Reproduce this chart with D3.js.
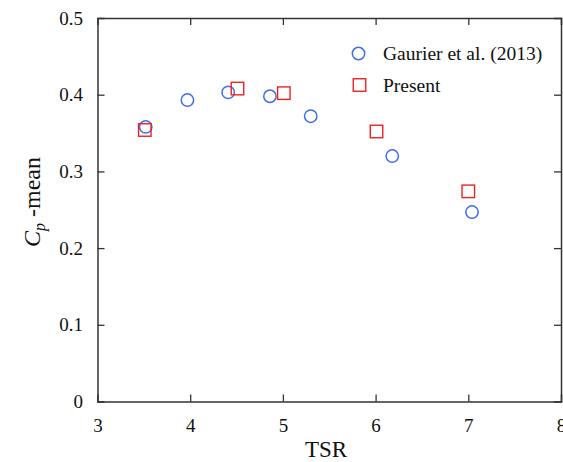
<!DOCTYPE html>
<html>
<head>
<meta charset="utf-8">
<script src="https://cdn.jsdelivr.net/npm/d3@7"></script>
<style>
  html, body { margin: 0; padding: 0; background: #fff; }
  svg text { font-family: "Liberation Serif", "Times New Roman", serif; fill: #111; }
</style>
</head>
<body>
<svg id="chart" width="563" height="462"></svg>
<script>
// Mean power coefficient versus tip speed ratio
const gaurierTSR = [3.52, 3.97, 4.41, 4.86, 5.30, 6.18, 7.04];
const gaurierCp  = [0.358, 0.393, 0.403, 0.398, 0.372, 0.320, 0.247];
const presentTSR = [3.51, 4.51, 5.01, 6.01, 7.00];
const presentCp  = [0.354, 0.408, 0.402, 0.352, 0.274];
const xTicks = [3, 4, 5, 6, 7, 8];
const yTicks = [0, 0.1, 0.2, 0.3, 0.4, 0.5];
const legendLabels = ["Gaurier et al. (2013)", "Present"];

const svg = d3.select("#chart");
const plotLeft = 97.5, plotRight = 561, plotTop = 18, plotBottom = 401.5;

const x = d3.scaleLinear().domain([3, 8]).range([plotLeft, plotRight]);
const y = d3.scaleLinear().domain([0, 0.5]).range([plotBottom, plotTop]);

const axisColor = "#333";
const tickLen = 7;
const tickFont = 19;

// Inward-pointing ticks on all four sides
const gB = svg.append("g").attr("transform", `translate(0,${plotBottom})`)
  .call(d3.axisBottom(x).tickValues(xTicks).tickSize(-tickLen).tickPadding(17).tickFormat(d3.format("d")));
const gT = svg.append("g").attr("transform", `translate(0,${plotTop})`)
  .call(d3.axisTop(x).tickValues(xTicks).tickSize(-tickLen).tickFormat(""));
const gL = svg.append("g").attr("transform", `translate(${plotLeft},0)`)
  .call(d3.axisLeft(y).tickValues(yTicks).tickSize(-tickLen).tickPadding(14.5)
    .tickFormat(d => d === 0 ? "0" : d3.format(".1f")(d)));
const gR = svg.append("g").attr("transform", `translate(${plotRight},0)`)
  .call(d3.axisRight(y).tickValues(yTicks).tickSize(-tickLen).tickFormat(""));

[gB, gT, gL, gR].forEach(g => {
  g.attr("font-family", null).attr("font-size", null);
  g.select(".domain").attr("stroke", axisColor).attr("stroke-width", 1.5);
  g.selectAll(".tick line").attr("stroke", axisColor).attr("stroke-width", 1.3);
  g.selectAll(".tick text").attr("font-family", "Liberation Serif, serif")
    .attr("font-size", tickFont).attr("fill", "#111");
});
// end ticks coincide with the frame; hide them
gB.selectAll(".tick").filter(d => d === 3 || d === 8).select("line").remove();
gT.selectAll(".tick").filter(d => d === 3 || d === 8).select("line").remove();
gL.selectAll(".tick").filter(d => d === 0 || d === 0.5).select("line").remove();
gR.selectAll(".tick").filter(d => d === 0 || d === 0.5).select("line").remove();

// Axis titles
svg.append("text").attr("x", 326).attr("y", 457)
  .attr("text-anchor", "middle").attr("font-size", 23).text("TSR");

const yl = svg.append("text")
  .attr("transform", `translate(40,202) rotate(-90)`)
  .attr("text-anchor", "middle").attr("font-size", 24);
yl.append("tspan").attr("font-style", "italic").text("C");
yl.append("tspan").attr("font-style", "italic").attr("font-size", 16).attr("dy", 5).text("p");
yl.append("tspan").attr("dy", -5).text(" -mean");

const blue = "#3f6fe6", red = "#ee2020";
const r = 6.2, s = 12.5;

// Reference data: open circles
svg.append("g").selectAll("circle")
  .data(d3.zip(gaurierTSR, gaurierCp)).join("circle")
  .attr("cx", d => x(d[0])).attr("cy", d => y(d[1])).attr("r", r)
  .attr("fill", "none").attr("stroke", blue).attr("stroke-width", 1.5);

// Present results: open squares
svg.append("g").selectAll("rect")
  .data(d3.zip(presentTSR, presentCp)).join("rect")
  .attr("x", d => x(d[0]) - s / 2).attr("y", d => y(d[1]) - s / 2)
  .attr("width", s).attr("height", s)
  .attr("fill", "none").attr("stroke", red).attr("stroke-width", 1.4);

// Legend
const lg = svg.append("g");
lg.append("circle").attr("cx", 358.5).attr("cy", 53.5).attr("r", r)
  .attr("fill", "none").attr("stroke", blue).attr("stroke-width", 1.5);
lg.append("rect").attr("x", 359.5 - s / 2).attr("y", 85 - s / 2).attr("width", s).attr("height", s)
  .attr("fill", "none").attr("stroke", red).attr("stroke-width", 1.4);
lg.append("text").attr("x", 383).attr("y", 60).attr("font-size", 19.5).text(legendLabels[0]);
lg.append("text").attr("x", 383).attr("y", 91.5).attr("font-size", 19.5).text(legendLabels[1]);
</script>
</body>
</html>
